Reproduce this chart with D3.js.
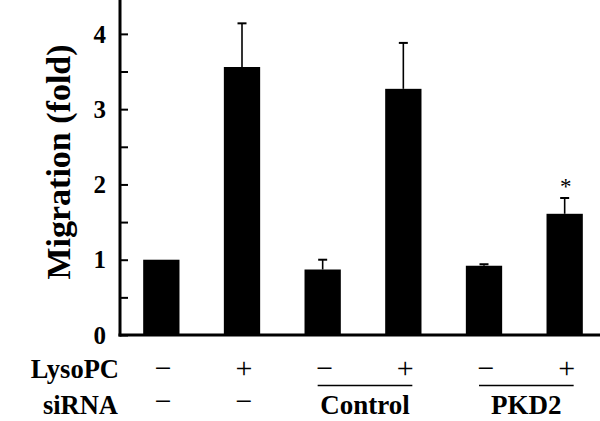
<!DOCTYPE html>
<html><head><meta charset="utf-8">
<script src="https://cdn.jsdelivr.net/npm/d3@7"></script>
<style>
html,body{margin:0;padding:0;background:#fff;}
svg{display:block;}
</style></head>
<body>
<svg id="chart" width="600" height="421"></svg>
<script>
const categories = ["c1","c2","c3","c4","c5","c6"];
const values = [1.0, 3.56, 0.87, 3.27, 0.92, 1.61];
const errors = [0, 0.58, 0.13, 0.61, 0.02, 0.21];
const lysoPC = ["\u2212","+","\u2212","+","\u2212","+"];
const siRNA = ["\u2212","\u2212","Control","Control","PKD2","PKD2"];
const significance = ["","","","","","*"];
const yTicks = [0, 0.5, 1, 1.5, 2, 2.5, 3, 3.5, 4];
const yTickLabels = ["0","","1","","2","","3","","4"];
const yTitle = "Migration (fold)";

const FONT = '"Liberation Serif"';
const svg = d3.select("#chart");
const x = d3.scaleBand().domain(categories).range([121, 605]).paddingInner(0.55).paddingOuter(0.275);
const y = d3.scaleLinear().domain([0, 4.45]).range([335, 0]);

function txt(sel){ return sel.style("font-family", FONT); }

// bars
svg.selectAll("rect.bar").data(values).join("rect")
  .attr("class","bar")
  .attr("x",(d,i)=>x(categories[i]))
  .attr("width",x.bandwidth())
  .attr("y",d=>y(d))
  .attr("height",d=>y(0)-y(d))
  .attr("fill","#000");

// error bars
const eb = svg.append("g");
values.forEach((v,i)=>{
  if(errors[i]<=0) return;
  const cx = x(categories[i]) + x.bandwidth()/2;
  eb.append("line").attr("x1",cx).attr("x2",cx).attr("y1",y(v)).attr("y2",y(v+errors[i]))
    .attr("stroke","#000").attr("stroke-width",1.6);
  eb.append("line").attr("x1",cx-4.5).attr("x2",cx+4.5).attr("y1",y(v+errors[i])).attr("y2",y(v+errors[i]))
    .attr("stroke","#000").attr("stroke-width",2);
  if(significance[i]){
    txt(eb.append("text")).attr("x",cx+1).attr("y",y(v+errors[i])-4)
      .attr("text-anchor","middle").attr("font-size",23).text(significance[i]);
  }
});

// y axis
const yAxis = d3.axisRight(y).tickValues(yTicks).tickSize(8).tickFormat("");
const ga = svg.append("g").attr("transform","translate(120,0)").call(yAxis);
ga.select(".domain").remove();
ga.selectAll(".tick line").attr("stroke","#000").attr("stroke-width",2);
svg.append("line").attr("x1",120).attr("x2",120).attr("y1",0).attr("y2",336.5)
  .attr("stroke","#000").attr("stroke-width",3);
svg.append("line").attr("x1",118.5).attr("x2",600).attr("y1",335).attr("y2",335)
  .attr("stroke","#000").attr("stroke-width",3);

txt(svg.selectAll("text.ytl").data(yTicks).join("text").attr("class","ytl"))
  .attr("x",106).attr("y",d=>y(d)).attr("dy","0.35em")
  .attr("text-anchor","end").attr("font-size",25).attr("font-weight","bold")
  .text((d,i)=>yTickLabels[i]);

txt(svg.append("text")).attr("transform","translate(70,162) rotate(-90)")
  .attr("text-anchor","middle").attr("font-size",34).attr("font-weight","bold")
  .text(yTitle);

// row labels
txt(svg.append("text")).attr("x",119).attr("y",378).attr("text-anchor","end")
  .attr("font-size",26.5).attr("font-weight","bold").text("LysoPC");
txt(svg.append("text")).attr("x",118).attr("y",414).attr("text-anchor","end")
  .attr("font-size",26.5).attr("font-weight","bold").text("siRNA");

// LysoPC signs
txt(svg.selectAll("text.lyso").data(lysoPC).join("text").attr("class","lyso"))
  .attr("x",(d,i)=>x(categories[i])+x.bandwidth()/2+2).attr("y",378)
  .attr("text-anchor","middle").attr("font-size",30).text(d=>d);

// siRNA groups
const groups = [];
siRNA.forEach((s,i)=>{
  const last = groups[groups.length-1];
  if(s!=="\u2212" && last && last.label===s) last.end=i;
  else groups.push({label:s,start:i,end:i});
});
groups.forEach(g=>{
  const c0 = x(categories[g.start]) + x.bandwidth()/2 + 2;
  const c1 = x(categories[g.end]) + x.bandwidth()/2 + 2;
  if(g.start===g.end){
    txt(svg.append("text")).attr("x",c0).attr("y",411).attr("text-anchor","middle")
      .attr("font-size",30).text(g.label);
  } else {
    svg.append("line").attr("x1",c0-7).attr("x2",c1+7).attr("y1",385.5).attr("y2",385.5)
      .attr("stroke","#000").attr("stroke-width",1.5);
    txt(svg.append("text")).attr("x",(c0+c1)/2).attr("y",414).attr("text-anchor","middle")
      .attr("font-size",27).attr("font-weight","bold").text(g.label);
  }
});
</script>
</body></html>
